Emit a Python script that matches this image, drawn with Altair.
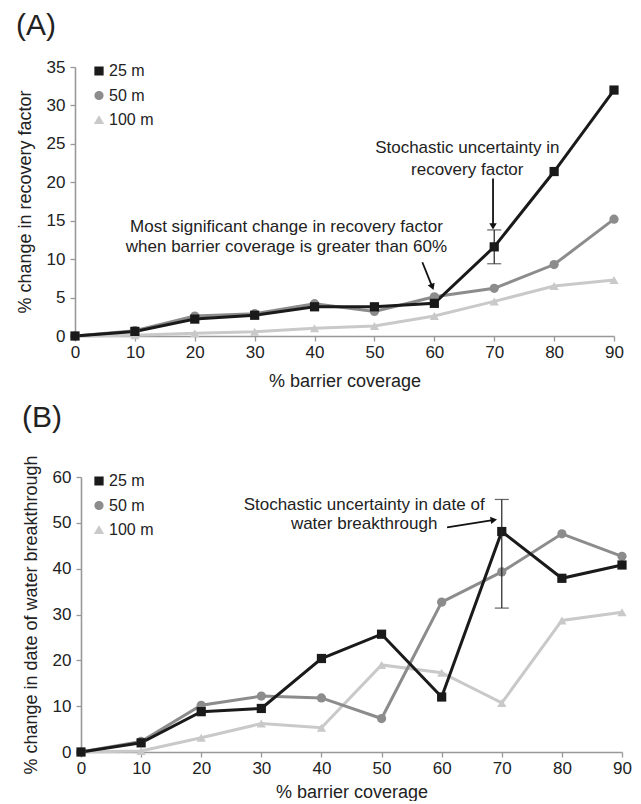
import altair as alt
import pandas as pd

# ---------------- data ----------------
coverage = [0, 10, 20, 30, 40, 50, 60, 70, 80, 90]
series = ["25 m", "50 m", "100 m"]
colors = ["#1a1a1a", "#8c8c8c", "#c9c9c9"]
shapes = ["square", "circle", "triangle-up"]

rf_25 = [0, 0.6, 2.2, 2.7, 3.8, 3.8, 4.25, 11.6, 21.4, 32.0]
rf_50 = [0, 0.7, 2.6, 2.9, 4.2, 3.2, 5.1, 6.2, 9.3, 15.2]
rf_100 = [0, 0.1, 0.35, 0.55, 1.0, 1.3, 2.6, 4.5, 6.5, 7.3]

wb_25 = [0, 2.0, 8.8, 9.5, 20.4, 25.7, 12.0, 48.1, 37.9, 40.8]
wb_50 = [0, 2.3, 10.2, 12.2, 11.8, 7.3, 32.7, 39.3, 47.6, 42.7]
wb_100 = [0, 0.2, 3.1, 6.2, 5.3, 19.0, 17.3, 10.7, 28.7, 30.5]

# error bars (x, low, high)
rf_err = [70, 9.4, 13.8]
wb_err = [70, 31.4, 55.1]

# annotation text lines (x centre, y centre, text)
rf_notes_x = [65.5, 65.5, 35.3, 35.3]
rf_notes_y = [24.45, 21.65, 14.2, 11.6]
rf_notes_t = ["Stochastic uncertainty in", "recovery factor",
              "Most significant change in recovery factor",
              "when barrier coverage is greater than 60%"]
wb_notes_x = [47.1, 47.1]
wb_notes_y = [54.0, 49.7]
wb_notes_t = ["Stochastic uncertainty in date of", "water breakthrough"]

# arrows (x start, y start, x end, y end, head angle)
rf_arrows = [[69.8, 20.5, 69.8, 14.4, 180], [58.0, 9.6, 59.6, 6.5, 159]]
wb_arrows = [[60.9, 49.0, 68.5, 50.6, 81]]

FONT = "Liberation Sans"
TXT = "#222222"
AX = "#999999"


def long_df(vals):
    rows = []
    # draw order: light first, dark on top
    for s, v in zip(["100 m", "50 m", "25 m"], [vals[2], vals[1], vals[0]]):
        for c, y in zip(coverage, v):
            rows.append({"cov": c, "val": y, "series": s})
    return pd.DataFrame(rows)


def panel(vals, ymax, ystep, ytitle, label, err, nx, ny, nt, arrows,
          w, h, toff, shift, xtp):
    df = long_df(vals)
    if shift:
        xs = alt.Scale(domain=[0, 90], nice=False, range=[shift, w])
    else:
        xs = alt.Scale(domain=[0, 90], nice=False)
    ys = alt.Scale(domain=[0, ymax], nice=False)
    xax = alt.Axis(values=coverage, title="% barrier coverage", labelFlush=False,
                   labelOverlap=False, titlePadding=xtp, labelPadding=3)
    yax_kw = dict(values=list(range(0, ymax + 1, ystep)), title=ytitle,
                  labelOverlap=False, titlePadding=12, labelPadding=5)
    if shift:
        yax_kw["offset"] = -shift
    yax = alt.Axis(**yax_kw)
    X = lambda f: alt.X(f, scale=xs, axis=xax)
    Y = lambda f: alt.Y(f, scale=ys, axis=yax)

    col = alt.Color("series:N", scale=alt.Scale(domain=series, range=colors),
                    legend=alt.Legend(title=None, orient="none", legendX=16,
                                      legendY=-4,
                                      labelFontSize=16, labelFont=FONT, labelColor=TXT,
                                      symbolSize=60, rowPadding=8.5, labelOffset=2))
    shp = alt.Shape("series:N", scale=alt.Scale(domain=series, range=shapes))

    base = alt.Chart(df).encode(x=X("cov:Q"), y=Y("val:Q"))
    lines = base.mark_line(strokeWidth=3).encode(color=col)
    pts = base.mark_point(filled=True, size=85, opacity=1).encode(color=col, shape=shp)

    edf = pd.DataFrame({"cov": [err[0]], "lo": [err[1]], "hi": [err[2]]})
    eb = alt.Chart(edf).mark_rule(color="#222", strokeWidth=1.2).encode(
        x=X("cov:Q"), y=Y("lo:Q"), y2="hi:Q")
    cap1 = alt.Chart(edf).mark_tick(color="#222", thickness=1.2, size=14,
                                    orient="horizontal").encode(x=X("cov:Q"), y=Y("lo:Q"))
    cap2 = alt.Chart(edf).mark_tick(color="#222", thickness=1.2, size=14,
                                    orient="horizontal").encode(x=X("cov:Q"), y=Y("hi:Q"))

    ndf = pd.DataFrame({"x": nx, "y": ny, "t": nt})
    notes = alt.Chart(ndf).mark_text(font=FONT, fontSize=17, color=TXT,
                                     align="center", baseline="middle").encode(
        x=X("x:Q"), y=Y("y:Q"), text="t:N")

    adf = pd.DataFrame(arrows, columns=["x1", "y1", "x2", "y2", "ang"])
    ash = alt.Chart(adf).mark_rule(color="#111", strokeWidth=1.8).encode(
        x=X("x1:Q"), y=Y("y1:Q"), x2="x2:Q", y2="y2:Q")
    ahead = alt.Chart(adf).mark_point(shape="triangle", filled=True, size=55,
                                      color="#111", opacity=1).encode(
        x=X("x2:Q"), y=Y("y2:Q"), angle=alt.Angle("ang:Q", scale=None))

    return alt.layer(lines, pts, eb, cap1, cap2, ash, ahead, notes).properties(
        width=w, height=h,
        title=alt.TitleParams(label, anchor="start", frame="bounds", fontSize=30,
                              font=FONT, fontWeight="normal", color=TXT, offset=toff))


A = panel([rf_25, rf_50, rf_100], 35, 5, "% change in recovery factor", "(A)",
          rf_err, rf_notes_x, rf_notes_y, rf_notes_t, rf_arrows, 539, 269, 17, 0, 12)
B = panel([wb_25, wb_50, wb_100], 60, 10, "% change in date of water breakthrough", "(B)",
          wb_err, wb_notes_x, wb_notes_y, wb_notes_t, wb_arrows, 547, 275, 22, 6, 7)

chart = alt.concat(A, B, columns=1, spacing=12).resolve_scale(
    color="independent", shape="independent").properties(
    padding={"left": 16, "top": 11, "right": 5, "bottom": 0}
).configure_view(stroke=None).configure_axis(
    grid=False, domainColor=AX, domainWidth=1.6, tickColor=AX, tickWidth=1.3, tickSize=5,
    labelFont=FONT, labelFontSize=17, labelColor=TXT,
    titleFont=FONT, titleFontSize=18, titleColor=TXT, titleFontWeight="normal"
)

chart.save("out.html", embed_options={"renderer": "svg", "actions": False})
